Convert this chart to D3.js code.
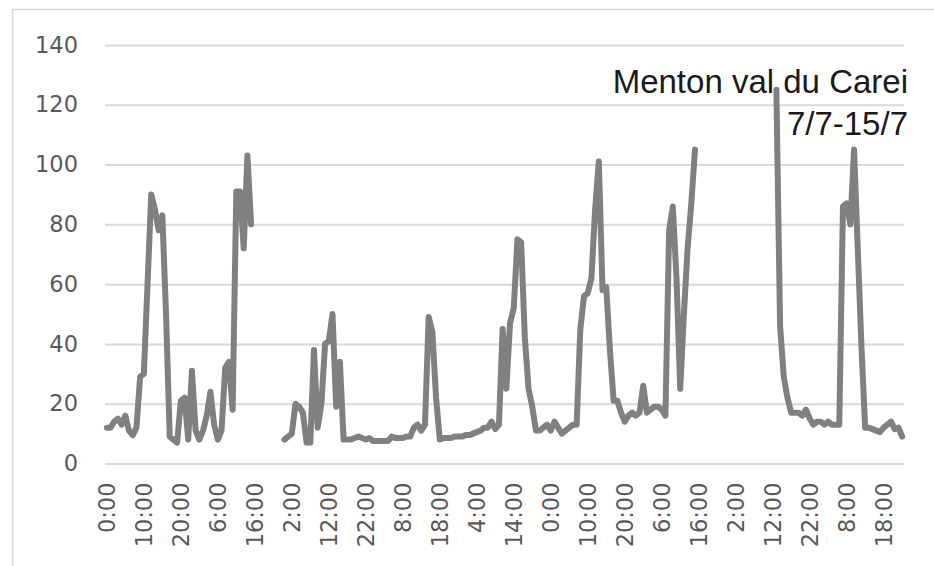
<!DOCTYPE html>
<html>
<head>
<meta charset="utf-8">
<script src="https://cdn.jsdelivr.net/npm/d3@7"></script>
<style>
  html, body { margin: 0; padding: 0; background: #fff; }
  svg { display: block; }
</style>
</head>
<body>
<div id="chart-container"></div>
<script>
// hourly values, one array per day (null = no measurement)
const jul07 = [12, 12, 14, 15, 13, 16, 11, 9.5, 12, 29, 30, 60, 90, 85, 78, 83, 50, 9, 8, 7, 21, 22, 8, 31];
const jul08 = [11, 8, 11, 16, 24, 13, 8, 11, 32, 34, 18, 91, 91, 72, 103, 80, null, null, null, null, null, null, null, null];
const jul09 = [8, 9, 10, 20, 19, 17, 7, 7, 38, 12, 20, 40, 41, 50, 19, 34, 8, 8, 8, 8.5, 9, 8.5, 8, 8.5];
const jul10 = [7.5, 7.5, 7.5, 7.5, 7.5, 9, 8.5, 8.5, 8.5, 9, 9, 12, 13, 11, 13, 49, 44, 22, 8, 8.5, 8.5, 8.5, 9, 9];
const jul11 = [9, 9.5, 9.5, 10, 10.5, 11, 12, 12, 14, 11.5, 13, 45, 25, 47, 52, 75, 74, 42, 25, 19, 11, 11, 12, 13];
const jul12 = [11, 14, 12, 10, 11, 12, 13, 13, 45, 56, 57, 62, 85, 101, 58, 59, 38, 21, 21, 17, 14, 16, 17, 16];
const jul13 = [17, 26, 17, 18, 19, 19, 18, 16, 78, 86, 62, 25, 50, 72, 87, 105, null, null, null, null, null, null, null, null];
const jul14 = [null, null, null, null, null, null, null, null, null, null, null, null, null, 125, 46, 29, 22, 17, 17, 17, 16, 18, 15, 13];
const jul15 = [14, 14, 13, 14, 13, 13, 13, 86, 87, 80, 105, 72, 39, 12, 12, 11.5, 11, 10.5, 12, 13, 14, 11.5, 12, 9];

const hoursOfDay = ["0:00", "1:00", "2:00", "3:00", "4:00", "5:00", "6:00", "7:00", "8:00", "9:00", "10:00", "11:00",
  "12:00", "13:00", "14:00", "15:00", "16:00", "17:00", "18:00", "19:00", "20:00", "21:00", "22:00", "23:00"];
const yTicks = [0, 20, 40, 60, 80, 100, 120, 140];
const labelEvery = 10;
const titleLines = ["Menton val du Carei", "7/7-15/7"];

const values = [].concat(jul07, jul08, jul09, jul10, jul11, jul12, jul13, jul14, jul15);
const categories = values.map((v, i) => hoursOfDay[i % 24]);

const W = 934, H = 566;
const plot = { left: 105, right: 904, top: 45, bottom: 463.5 };

const svg = d3.select("#chart-container").append("svg")
  .attr("width", W)
  .attr("height", H);

// chart frame
svg.append("rect")
  .attr("x", 12.5).attr("y", 9.5)
  .attr("width", 1000).attr("height", 1000)
  .attr("fill", "none")
  .attr("stroke", "#d9d9d9")
  .attr("stroke-width", 1.5);

const x = d3.scaleBand()
  .domain(d3.range(values.length))
  .range([plot.left, plot.right])
  .padding(0);

const y = d3.scaleLinear()
  .domain([0, 140])
  .range([plot.bottom, plot.top]);

const cx = i => x(i) + x.bandwidth() / 2;

// gridlines + y labels
const yAxis = d3.axisLeft(y)
  .tickValues(yTicks)
  .tickSize(-(plot.right - plot.left))
  .tickPadding(27);

svg.append("g")
  .attr("transform", `translate(${plot.left},0)`)
  .call(yAxis)
  .call(g => g.select(".domain").remove())
  .call(g => g.selectAll(".tick line").attr("stroke", "#d9d9d9").attr("stroke-width", 2))
  .call(g => g.selectAll(".tick text")
    .attr("fill", "#595959")
    .attr("font-family", "DejaVu Sans")
    .attr("font-size", 22.5));

// x labels, every 10 hours, rotated
const xAxis = d3.axisBottom(x)
  .tickValues(d3.range(values.length).filter(i => i % labelEvery === 0))
  .tickFormat(i => categories[i])
  .tickSize(0);

svg.append("g")
  .attr("transform", `translate(0,${plot.bottom})`)
  .call(xAxis)
  .call(g => g.select(".domain").remove())
  .call(g => g.selectAll(".tick text")
    .attr("fill", "#595959")
    .attr("font-family", "DejaVu Sans")
    .attr("font-size", 22.5)
    .attr("text-anchor", "end")
    .attr("transform", "translate(0,19) rotate(-90)")
    .attr("x", 0)
    .attr("y", 0)
    .attr("dy", "0.35em"));

// title text box
svg.append("g")
  .selectAll("text")
  .data(titleLines)
  .enter()
  .append("text")
  .attr("x", 908)
  .attr("y", (d, i) => 93 + i * 42)
  .attr("text-anchor", "end")
  .attr("fill", "#1a1a1a")
  .attr("font-family", "Liberation Sans")
  .attr("font-size", 33)
  .text(d => d);

// the series
const line = d3.line()
  .defined(d => d != null)
  .x((d, i) => cx(i))
  .y(d => y(d));

svg.append("path")
  .datum(values)
  .attr("d", line)
  .attr("fill", "none")
  .attr("stroke", "#808080")
  .attr("stroke-width", 6)
  .attr("stroke-linejoin", "round")
  .attr("stroke-linecap", "round");
</script>
</body>
</html>
